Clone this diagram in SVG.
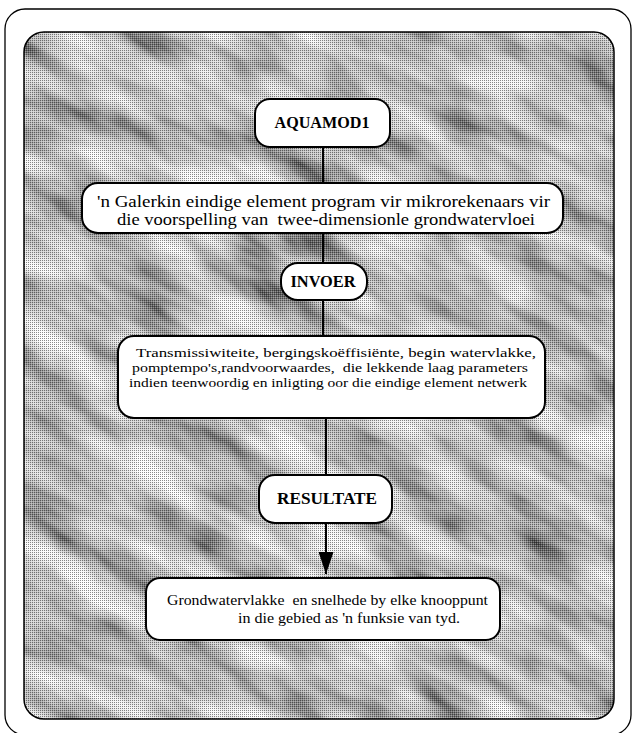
<svg xmlns="http://www.w3.org/2000/svg" width="636" height="733" viewBox="0 0 636 733">
<style>
.node rect{fill:#fff;stroke:#000;stroke-width:2}
.lbl{font-family:"Liberation Serif","Times New Roman",serif;font-weight:bold;fill:#000;text-anchor:middle}
.txt{font-family:"Liberation Serif","Times New Roman",serif;fill:#000}
.conn line{stroke:#000;stroke-width:2}
</style>
<defs>
<clipPath id="innerClip"><rect x="24" y="32" width="590" height="687" rx="20"/></clipPath>
<filter id="streak" filterUnits="userSpaceOnUse" x="-300" y="-300" width="1300" height="1400">
<feTurbulence type="fractalNoise" baseFrequency="0.011 0.032" numOctaves="3" seed="11"/>
<feColorMatrix type="matrix" values="1.4 0 0 0 -0.12  1.4 0 0 0 -0.12  1.4 0 0 0 -0.12  0 0 0 0 1"/>
</filter>
<pattern id="dots" width="2" height="2" patternUnits="userSpaceOnUse">
<rect x="0" y="0" width="1" height="1" fill="#000" fill-opacity="0.45"/>
<rect x="1" y="1" width="1" height="1" fill="#fff" fill-opacity="0.3"/>
</pattern>
<marker id="arrow" viewBox="0 0 22 15" refX="22" refY="7.5" markerWidth="22" markerHeight="15" markerUnits="userSpaceOnUse" orient="auto">
<path d="M0,0 L22,7.5 L0,15 z" fill="#000"/>
</marker>
</defs>
<rect id="outer-frame" x="5" y="9" width="626" height="726" rx="20" fill="#fff" stroke="#000" stroke-width="1.3"/>
<g id="background" clip-path="url(#innerClip)">
<rect x="24" y="32" width="590" height="687" fill="#999"/>
<g transform="rotate(30 320 375)">
<rect x="-300" y="-300" width="1300" height="1400" filter="url(#streak)"/>
</g>
<rect x="24" y="32" width="590" height="687" fill="url(#dots)"/>
</g>
<rect x="24" y="32" width="590" height="687" rx="20" fill="none" stroke="#000" stroke-width="1.5"/>
<g id="connectors" class="conn">
<line x1="323" y1="147" x2="323" y2="183"/>
<line x1="323" y1="233" x2="323" y2="263"/>
<line x1="323" y1="300" x2="323" y2="336"/>
<line x1="326" y1="418" x2="326" y2="475"/>
<line x1="326" y1="523" x2="326" y2="574" marker-end="url(#arrow)"/>
</g>
<g id="aquamod" class="node">
<rect x="255" y="99" width="135" height="48" rx="15"/>
<text class="lbl" x="322" y="128" font-size="17" textLength="95" lengthAdjust="spacingAndGlyphs">AQUAMOD1</text>
</g>
<g id="beskrywing" class="node">
<rect x="82" y="183" width="481" height="50" rx="16"/>
<text class="txt" x="97" y="207" font-size="16" textLength="453" lengthAdjust="spacingAndGlyphs" xml:space="preserve">'n Galerkin eindige element program vir mikrorekenaars vir</text>
<text class="txt" x="117" y="225" font-size="16" textLength="418" lengthAdjust="spacingAndGlyphs" xml:space="preserve">die voorspelling van  twee-dimensionle grondwatervloei</text>
</g>
<g id="invoer" class="node">
<rect x="281" y="263" width="86" height="37" rx="17"/>
<text class="lbl" x="323" y="287" font-size="17" textLength="65" lengthAdjust="spacingAndGlyphs">INVOER</text>
</g>
<g id="invoerdata" class="node">
<rect x="118" y="336" width="427" height="82" rx="16"/>
<text class="txt" x="136" y="357" font-size="13.5" textLength="400" lengthAdjust="spacingAndGlyphs">Transmissiwiteite, bergingskoëffisiënte, begin watervlakke,</text>
<text class="txt" x="132" y="372" font-size="13.5" textLength="396" lengthAdjust="spacingAndGlyphs" xml:space="preserve">pomptempo's,randvoorwaardes,  die lekkende laag parameters</text>
<text class="txt" x="129" y="387" font-size="13.5" textLength="398" lengthAdjust="spacingAndGlyphs">indien teenwoordig en inligting oor die eindige element netwerk</text>
</g>
<g id="resultate" class="node">
<rect x="259" y="475" width="133" height="48" rx="16"/>
<text class="lbl" x="327" y="504" font-size="16.5" textLength="100" lengthAdjust="spacingAndGlyphs">RESULTATE</text>
</g>
<g id="uitvoer" class="node">
<rect x="146" y="578" width="354" height="62" rx="14"/>
<text class="txt" x="167" y="605" font-size="15.5" textLength="321" lengthAdjust="spacingAndGlyphs" xml:space="preserve">Grondwatervlakke  en snelhede by elke knooppunt</text>
<text class="txt" x="238" y="623" font-size="15.5" textLength="222" lengthAdjust="spacingAndGlyphs">in die gebied as 'n funksie van tyd.</text>
</g>
</svg>
